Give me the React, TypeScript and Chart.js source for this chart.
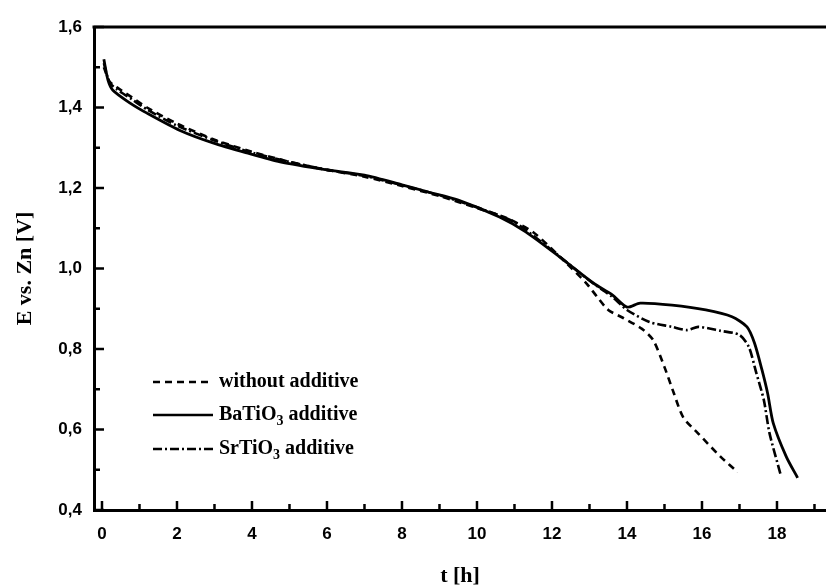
import { useEffect, useRef } from "react";
import { Chart, registerables } from "chart.js";

Chart.register(...registerables);

// ---- data (t in hours, E in volts) ----
const tWithout = [0.05, 0.2, 0.4, 0.8, 1.2, 2.0, 3.0, 4.0, 5.0, 6.0, 7.0, 8.0, 9.0, 10.0, 10.8, 11.5, 12.2, 12.9, 13.2, 13.5, 13.9, 14.4, 14.7, 15.0, 15.25, 15.5, 15.9, 16.5, 16.95];
const eWithout = [1.50, 1.465, 1.45, 1.425, 1.40, 1.36, 1.32, 1.29, 1.265, 1.245, 1.228, 1.205, 1.18, 1.15, 1.125, 1.09, 1.03, 0.965, 0.93, 0.897, 0.877, 0.85, 0.822, 0.755, 0.69, 0.63, 0.59, 0.532, 0.494];

const tBa = [0.05, 0.16, 0.29, 0.75, 1.2, 2.08, 2.96, 3.87, 4.75, 6.0, 7.0, 8.0, 8.7, 9.5, 10.6, 11.3, 12.2, 13.1, 13.6, 14.0, 14.35, 15.2, 16.1, 16.8, 17.2, 17.4, 17.6, 17.75, 17.9, 18.25, 18.55];
const eBa = [1.52, 1.468, 1.443, 1.411, 1.386, 1.343, 1.312, 1.287, 1.265, 1.245, 1.232, 1.208, 1.19, 1.17, 1.128, 1.091, 1.029, 0.964, 0.935, 0.904, 0.914, 0.909, 0.897, 0.88, 0.855, 0.815, 0.748, 0.69, 0.616, 0.532, 0.48];

const tSr = [0.05, 0.2, 0.4, 0.8, 1.2, 2.0, 3.0, 4.0, 5.0, 6.0, 7.0, 8.0, 9.0, 10.0, 11.0, 12.0, 13.0, 13.6, 14.0, 14.6, 15.2, 15.6, 15.9, 16.5, 17.0, 17.25, 17.45, 17.65, 17.8, 18.1];
const eSr = [1.51, 1.462, 1.445, 1.42, 1.395, 1.355, 1.318, 1.288, 1.265, 1.245, 1.23, 1.207, 1.182, 1.152, 1.115, 1.045, 0.97, 0.93, 0.897, 0.867, 0.855, 0.847, 0.855, 0.845, 0.835, 0.805, 0.74, 0.673, 0.591, 0.487];

const xMajorTicks = [0, 2, 4, 6, 8, 10, 12, 14, 16, 18];
const xMinorTicks = [1, 3, 5, 7, 9, 11, 13, 15, 17, 19];
const yMajorTicks = [0.4, 0.6, 0.8, 1.0, 1.2, 1.4, 1.6];
const yMinorTicks = [0.5, 0.7, 0.9, 1.1, 1.3, 1.5];

const legendItems = [
  { base: "without additive", sub: "", rest: "", dash: [7, 5] },
  { base: "BaTiO", sub: "3", rest: " additive", dash: [] as number[] },
  { base: "SrTiO", sub: "3", rest: " additive", dash: [9, 3, 2, 3] },
];

const toPts = (ts: number[], es: number[]) => ts.map((t, i) => ({ x: t, y: es[i] }));

const axisPlugin = {
  id: "inwardTicks",
  afterDatasetsDraw(chart: any) {
    const { ctx, chartArea, scales } = chart;
    const x = scales.x;
    const y = scales.y;
    ctx.save();
    ctx.strokeStyle = "#000";
    ctx.lineWidth = 3;
    ctx.beginPath();
    ctx.moveTo(chartArea.left - 1.5, chartArea.top);
    ctx.lineTo(chartArea.right, chartArea.top);
    ctx.stroke();
    ctx.lineWidth = 2.5;
    ctx.beginPath();
    xMajorTicks.forEach((v) => {
      const px = x.getPixelForValue(v);
      ctx.moveTo(px, chartArea.bottom);
      ctx.lineTo(px, chartArea.bottom - 9);
    });
    xMinorTicks.forEach((v) => {
      const px = x.getPixelForValue(v);
      ctx.moveTo(px, chartArea.bottom);
      ctx.lineTo(px, chartArea.bottom - 6);
    });
    yMajorTicks.forEach((v) => {
      const py = y.getPixelForValue(v);
      ctx.moveTo(chartArea.left, py);
      ctx.lineTo(chartArea.left + 10, py);
    });
    yMinorTicks.forEach((v) => {
      const py = y.getPixelForValue(v);
      ctx.moveTo(chartArea.left, py);
      ctx.lineTo(chartArea.left + 6, py);
    });
    ctx.stroke();

    // legend
    const rowsY = [382, 415, 449];
    const lineX0 = 153;
    const lineX1 = 213;
    const textX = 219;
    legendItems.forEach((it, i) => {
      const yy = rowsY[i];
      ctx.setLineDash(it.dash);
      ctx.lineWidth = 2.5;
      ctx.beginPath();
      ctx.moveTo(lineX0, yy);
      ctx.lineTo(lineX1, yy);
      ctx.stroke();
      ctx.setLineDash([]);
      ctx.fillStyle = "#000";
      ctx.textBaseline = "middle";
      ctx.textAlign = "left";
      ctx.font = "bold 20px 'Liberation Serif'";
      let cx = textX;
      ctx.fillText(it.base, cx, yy);
      cx += ctx.measureText(it.base).width;
      if (it.sub) {
        ctx.font = "bold 14px 'Liberation Serif'";
        ctx.fillText(it.sub, cx, yy + 6);
        cx += ctx.measureText(it.sub).width;
        ctx.font = "bold 20px 'Liberation Serif'";
        ctx.fillText(it.rest, cx, yy);
      }
    });
    ctx.restore();
  },
};

export default function App() {
  const ref = useRef<HTMLCanvasElement | null>(null);
  useEffect(() => {
    if (!ref.current) return;
    const common = {
      fill: false,
      pointRadius: 0,
      borderColor: "#000",
      borderWidth: 2.6,
      tension: 0.25,
    };
    const chart = new Chart(ref.current, {
      type: "line",
      data: {
        datasets: [
          { ...common, label: "without additive", data: toPts(tWithout, eWithout), borderDash: [7, 5] },
          { ...common, label: "BaTiO3 additive", data: toPts(tBa, eBa), borderWidth: 2.8 },
          { ...common, label: "SrTiO3 additive", data: toPts(tSr, eSr), borderDash: [9, 3, 2, 3] },
        ],
      },
      options: {
        responsive: false,
        animation: false,
        events: [],
        layout: { padding: { top: 27, left: 0, right: 0, bottom: 0 } },
        plugins: { legend: { display: false }, tooltip: { enabled: false } },
        scales: {
          x: {
            type: "linear",
            min: -0.213,
            max: 19.307,
            afterFit: (s: any) => {
              s.height = 78;
            },
            afterBuildTicks: (s: any) => {
              s.ticks = xMajorTicks.map((v) => ({ value: v }));
            },
            grid: { display: false, drawTicks: false },
            border: { display: true, color: "#000", width: 3 },
            ticks: {
              color: "#000",
              padding: 14,
              maxRotation: 0,
              font: { family: "'Liberation Sans', Arial, sans-serif", weight: "bold", size: 17 },
              callback: (v: any) => String(v),
            },
            title: {
              display: true,
              text: "t [h]",
              color: "#000",
              font: { family: "'Liberation Serif', serif", weight: "bold", size: 22, lineHeight: 1.0 },
              padding: { top: 0, bottom: 1 },
            },
          },
          y: {
            type: "linear",
            min: 0.4,
            max: 1.6,
            afterFit: (s: any) => {
              s.width = 94;
            },
            afterBuildTicks: (s: any) => {
              s.ticks = yMajorTicks.map((v) => ({ value: v }));
            },
            grid: { display: false, drawTicks: false },
            border: { display: true, color: "#000", width: 3 },
            ticks: {
              color: "#000",
              padding: 12,
              font: { family: "'Liberation Sans', Arial, sans-serif", weight: "bold", size: 17 },
              callback: (v: any) => Number(v).toFixed(1).replace(".", ","),
            },
            title: {
              display: true,
              text: "E vs. Zn [V]",
              color: "#000",
              font: { family: "'Liberation Serif', serif", weight: "bold", size: 22, lineHeight: 1.2 },
              padding: { top: 12, bottom: 0 },
            },
          },
        },
      },
      plugins: [axisPlugin],
    });
    return () => chart.destroy();
  }, []);
  return (
    <div style={{ position: "absolute", left: 0, top: 0, width: 826, height: 588, background: "#fff" }}>
      <canvas ref={ref} width={826} height={588} />
    </div>
  );
}
